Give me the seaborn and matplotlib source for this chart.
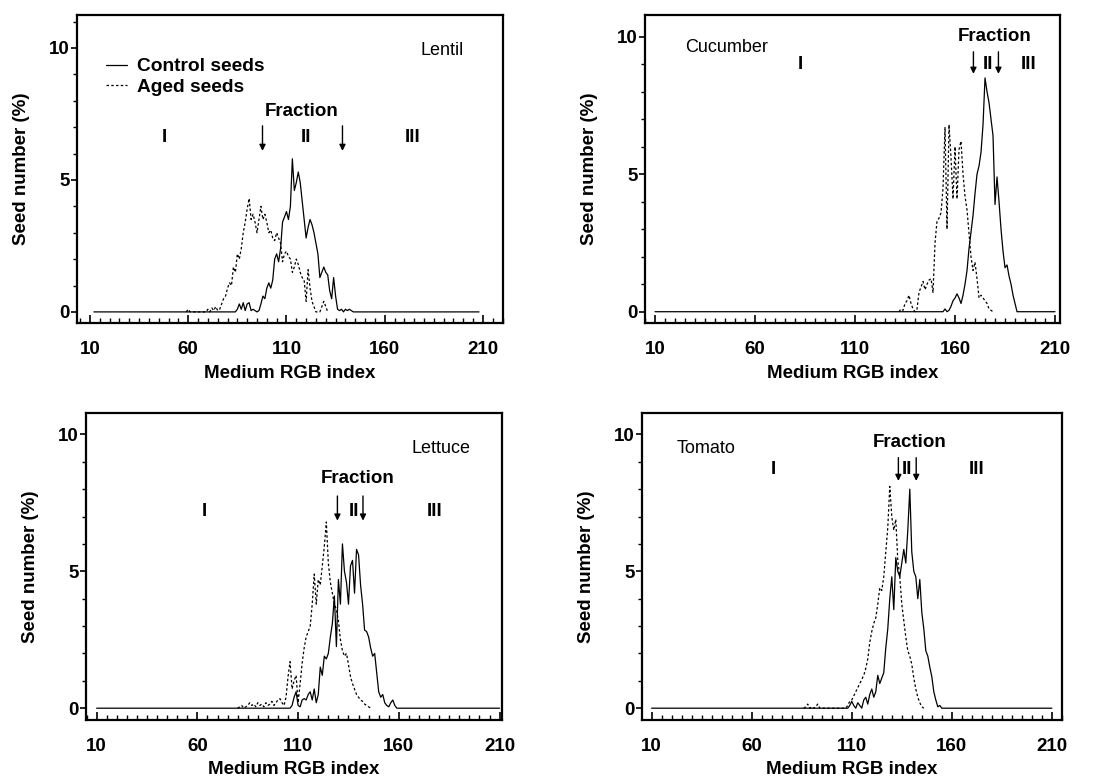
import numpy as np
import pandas as pd
import seaborn as sns
import matplotlib.pyplot as plt
from matplotlib.ticker import MultipleLocator

sns.set_style("ticks", {"axes.edgecolor": "black", "text.color": "black",
                        "axes.labelcolor": "black", "xtick.color": "black",
                        "ytick.color": "black"})
plt.rcParams['font.family'] = ['Liberation Sans', 'DejaVu Sans']

# ---- data: seed number (%) per medium RGB index ----
# each series: first x value + list of values at consecutive integer x
lentil_ctrl_x0 = 84
lentil_ctrl = [0, 0.1, 0.3, 0.1, 0.35, 0.05, 0.3, 0.35, 0.05, 0.1, 0.05, 0, 0.05, 0.3, 0.6,
               0.5, 0.9, 1.1, 0.9, 1.2, 2.0, 2.2, 1.9, 2.4, 3.4, 3.6, 3.8, 3.5, 4.0, 5.8,
               4.6, 4.9, 5.3, 4.9, 4.2, 3.5, 2.8, 3.2, 3.5, 3.3, 3.0, 2.6, 2.2, 1.3, 1.5,
               1.7, 1.5, 1.4, 0.8, 0.5, 1.3, 0.6, 0.1, 0.05, 0.1, 0, 0.1, 0.05, 0.1, 0.05, 0]
lentil_aged_x0 = 59
lentil_aged = [0, 0.1, 0, 0, 0, 0, 0, 0, 0, 0, 0, 0.1, 0, 0.15, 0.05, 0.2, 0.05, 0.1, 0.3,
               0.5, 0.6, 0.9, 1.1, 1.0, 1.7, 1.5, 2.2, 2.0, 2.4, 3.0, 3.4, 3.9, 4.3, 3.5,
               3.7, 3.4, 3.0, 3.5, 4.0, 3.5, 3.7, 3.4, 3.0, 3.1, 2.8, 2.7, 3.0, 2.8, 2.6,
               1.9, 2.2, 2.3, 2.1, 2.0, 1.5, 1.7, 2.0, 1.8, 1.5, 1.3, 1.2, 0.4, 1.6, 0.9,
               0.4, 0.2, 0, 0, 0, 0.2, 0.4, 0.2, 0]

cucumber_ctrl_x0 = 155
cucumber_ctrl = [0.1, 0, 0.05, 0.2, 0.4, 0.5, 0.65, 0.5, 0.3, 0.6, 1.0, 1.5, 2.3, 2.9, 3.5,
                 4.3, 5.0, 5.3, 5.8, 6.8, 8.5, 8.0, 7.6, 7.0, 6.4, 3.9, 4.9, 4.0, 3.0, 2.2,
                 1.6, 1.7, 1.3, 1.0, 0.6, 0.3, 0]
cucumber_aged_x0 = 132
cucumber_aged = [0, 0.1, 0.05, 0.3, 0.4, 0.6, 0.3, 0.1, 0, 0.1, 0.7, 0.9, 1.1, 0.8, 1.0,
                 1.15, 1.2, 0.7, 2.5, 3.3, 3.4, 3.6, 4.5, 6.7, 3.0, 6.8, 5.6, 4.1, 6.0, 4.1,
                 5.9, 6.2, 5.0, 4.2, 3.7, 2.85, 2.0, 1.5, 1.8, 1.2, 0.5, 0.6, 0.5, 0.4, 0.3,
                 0.1, 0.05, 0]

lettuce_ctrl_x0 = 106
lettuce_ctrl = [0, 0.1, 0.4, 0.6, 0.1, 0.05, 0.3, 0.35, 0.3, 0.5, 0.6, 0.3, 0.7, 0.2, 0.5,
                1.5, 1.2, 1.9, 1.8, 2.0, 2.6, 3.1, 4.1, 2.25, 4.7, 3.8, 6.0, 5.0, 4.6, 3.8,
                5.2, 5.4, 4.2, 5.8, 5.6, 4.5, 3.8, 2.85, 2.8, 2.6, 2.2, 1.9, 2.0, 1.3, 0.6,
                0.4, 0.5, 0.2, 0.1, 0.05, 0.2, 0.3, 0.1, 0]
lettuce_aged_x0 = 80
lettuce_aged = [0, 0.05, 0.1, 0, 0.05, 0.1, 0.2, 0.1, 0.15, 0.05, 0.2, 0.1, 0.15, 0.05, 0.2,
                0.1, 0.15, 0.25, 0.1, 0.2, 0.3, 0.35, 0.2, 0.1, 0.4, 1.15, 1.7, 0.7, 1.0,
                1.2, 0.2, 0.9, 1.65, 2.2, 2.6, 2.8, 3.0, 3.8, 4.9, 3.8, 4.7, 4.5, 5.2, 5.9,
                6.8, 5.3, 4.6, 4.2, 3.8, 3.6, 3.2, 2.5, 2.1, 1.9, 2.0, 1.6, 1.15, 0.9, 0.7,
                0.5, 0.4, 0.3, 0.25, 0.15, 0.1, 0.05, 0]

tomato_ctrl_x0 = 108
tomato_ctrl = [0, 0.1, 0.25, 0.1, 0, 0.2, 0.1, 0, 0.3, 0.4, 0.15, 0.5, 0.7, 0.4, 0.6, 1.2,
               0.9, 1.1, 1.3, 2.2, 2.9, 4.0, 4.8, 3.6, 5.5, 5.0, 4.8, 5.3, 5.8, 5.3, 6.5,
               8.0, 5.7, 5.0, 4.8, 4.0, 4.7, 3.5, 2.9, 2.1, 1.9, 1.5, 1.15, 0.6, 0.3, 0.05,
               0.1, 0]
tomato_aged_x0 = 86
tomato_aged = [0, 0.05, 0.15, 0, 0.05, 0, 0.05, 0.15, 0, 0, 0, 0, 0, 0, 0, 0, 0, 0, 0, 0,
               0, 0, 0.1, 0.25, 0.3, 0.45, 0.6, 0.75, 0.9, 1.05, 1.2, 1.45, 1.8, 2.4, 2.8,
               3.1, 3.3, 3.8, 4.4, 4.3, 4.8, 5.7, 6.6, 8.1, 7.0, 6.5, 6.9, 5.4, 4.8, 3.8,
               3.2, 2.6, 2.1, 1.9, 1.6, 1.1, 0.7, 0.4, 0.2, 0.05, 0]

x_ticks = [10, 60, 110, 160, 210]
y_ticks = [0, 5, 10]


def control_frame(x0, vals, lo, hi):
    # control curve runs along the whole baseline
    x = np.arange(lo, hi + 1)
    y = np.zeros(len(x))
    i = x0 - lo
    y[i:i + len(vals)] = vals
    return pd.DataFrame({"x": x, "y": y})


def aged_frame(x0, vals):
    return pd.DataFrame({"x": np.arange(x0, x0 + len(vals)), "y": vals})


panels = [
    dict(name="Lentil", ctrl=(lentil_ctrl_x0, lentil_ctrl), aged=(lentil_aged_x0, lentil_aged),
         base=(12, 208), rect=[0.0697, 0.5875, 0.3855, 0.3934], xlim=(3.4, 220.2), ylim=(-0.42, 11.25),
         name_xy=(178, 9.9), frac_xy=(117.6, 7.6), arrows=(97.8, 138.5), arrow_y=(7.05, 6.1),
         roman=[(47.8, "I"), (120, "II"), (174.4, "III")], roman_y=6.6, legend=True),
    dict(name="Cucumber", ctrl=(cucumber_ctrl_x0, cucumber_ctrl), aged=(cucumber_aged_x0, cucumber_aged),
         base=(10, 210), rect=[0.5837, 0.5875, 0.3756, 0.3934], xlim=(5, 212.5), ylim=(-0.41, 10.79),
         name_xy=(25, 9.6), frac_xy=(179.7, 10.0), arrows=(169.2, 181.7), arrow_y=(9.45, 8.65),
         roman=[(82.8, "I"), (176.3, "II"), (197, "III")], roman_y=9.0, legend=False),
    dict(name="Lettuce", ctrl=(lettuce_ctrl_x0, lettuce_ctrl), aged=(lettuce_aged_x0, lettuce_aged),
         base=(10, 210), rect=[0.0778, 0.0805, 0.3765, 0.392], xlim=(4.7, 211.2), ylim=(-0.43, 10.78),
         name_xy=(166.5, 9.5), frac_xy=(139.4, 8.4), arrows=(129.5, 142.2), arrow_y=(7.75, 6.85),
         roman=[(63.7, "I"), (137.6, "II"), (177.8, "III")], roman_y=7.2, legend=False),
    dict(name="Tomato", ctrl=(tomato_ctrl_x0, tomato_ctrl), aged=(tomato_aged_x0, tomato_aged),
         base=(10, 210), rect=[0.581, 0.0805, 0.380, 0.392], xlim=(5.2, 215), ylim=(-0.43, 10.78),
         name_xy=(22.5, 9.5), frac_xy=(138.8, 9.7), arrows=(133.3, 142.2), arrow_y=(9.15, 8.3),
         roman=[(70.8, "I"), (137.8, "II"), (172.5, "III")], roman_y=8.7, legend=False),
]

fig = plt.figure(figsize=(11.05, 7.83), dpi=100)
bold = dict(fontweight="bold", fontsize=13.5)

for p in panels:
    ax = fig.add_axes(p["rect"])
    ctrl = control_frame(p["ctrl"][0], p["ctrl"][1], *p["base"])
    aged = aged_frame(*p["aged"])
    sns.lineplot(data=ctrl, x="x", y="y", ax=ax, color="black", lw=0.9,
                 estimator=None, label="Control seeds")
    sns.lineplot(data=aged, x="x", y="y", ax=ax, color="black", lw=0.9,
                 estimator=None, linestyle=(0, (2.0, 1.8)), label="Aged seeds")

    ax.set_xlim(*p["xlim"])
    ax.set_ylim(*p["ylim"])
    ax.set_xticks(x_ticks)
    ax.set_yticks(y_ticks)
    ax.xaxis.set_minor_locator(MultipleLocator(5))
    ax.yaxis.set_minor_locator(MultipleLocator(1))
    ax.tick_params(axis="x", which="major", direction="in", length=6, width=1.2, pad=13,
                   labelsize=13.5)
    ax.tick_params(axis="x", which="minor", direction="in", length=3.5, width=1)
    ax.tick_params(axis="y", which="major", direction="out", length=4, width=1.2, pad=1,
                   labelsize=13.5)
    ax.tick_params(axis="y", which="minor", direction="out", length=3, width=1)
    for lab in ax.get_xticklabels() + ax.get_yticklabels():
        lab.set_fontweight("bold")
    for s in ax.spines.values():
        s.set_linewidth(1.6)
        s.set_visible(True)

    ax.set_xlabel("Medium RGB index", **bold)
    ax.set_ylabel("Seed number (%)", **bold)
    w_px = p["rect"][2] * 1105
    ax.xaxis.set_label_coords(0.5, -0.135)
    ax.yaxis.set_label_coords(-47 / w_px, 0.5)

    ax.text(p["name_xy"][0], p["name_xy"][1], p["name"], fontsize=13, va="center", ha="left")
    ax.text(p["frac_xy"][0], p["frac_xy"][1], "Fraction", ha="center", va="center", **bold)
    for xr, lab in p["roman"]:
        ax.text(xr, p["roman_y"], lab, ha="center", va="center", **bold)
    for xa in p["arrows"]:
        ax.annotate("", xy=(xa, p["arrow_y"][1]), xytext=(xa, p["arrow_y"][0]),
                    arrowprops=dict(arrowstyle="-|>", color="black", lw=1, mutation_scale=9,
                                    shrinkA=0, shrinkB=0))

    if p["legend"]:
        ax.legend(loc="upper left", bbox_to_anchor=(0.05, 0.885), frameon=False,
                  prop=dict(weight="bold", size=13.8), handlelength=1.1, handletextpad=0.5,
                  labelspacing=0.15, borderaxespad=0)
    else:
        ax.get_legend().remove()

fig.savefig("out.png", dpi=100)
plt.close(fig)
